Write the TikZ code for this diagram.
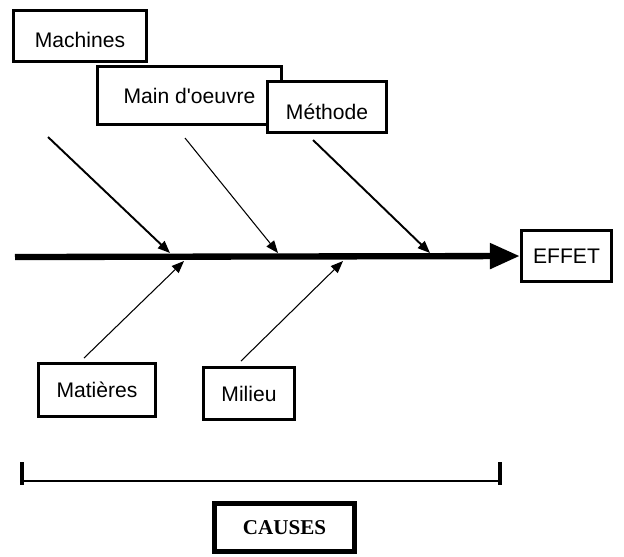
\documentclass[tikz,border=0pt]{standalone}
\usepackage{fontspec}
\setmainfont{Liberation Sans}
\newfontfamily\causefont{Liberation Serif}
\usetikzlibrary{arrows.meta}

\begin{document}
\begin{tikzpicture}[x=0.02cm,y=-0.02cm,every node/.style={draw,line width=2pt,fill=white,inner sep=0pt,font=\fontsize{12}{14}\selectfont},cause/.style={line width=0.6pt,-{Triangle[length=7pt,width=5.5pt]}}]
  \useasboundingbox (0,0) rectangle (624,556);
  \node (1) at (80,36)[minimum width=2.66cm,minimum height=1.02cm,text height=13pt]{Machines\hspace{8pt}};
  \node (2) at (189.5,95.5)[minimum width=3.68cm,minimum height=1.16cm]{Main d\textquotesingle oeuvre};
  \node (3) at (327,107)[minimum width=2.38cm,minimum height=1.02cm,text height=14pt]{Méthode};
  \node (4) at (566.5,256)[minimum width=1.8cm,minimum height=1.02cm]{EFFET};
  \node (5) at (97,390)[minimum width=2.34cm,minimum height=1.06cm]{Matières};
  \node (6) at (249,393.5)[minimum width=1.82cm,minimum height=1.04cm]{Milieu};
  \node (7) at (284.5,527.5)[line width=3pt,minimum width=2.8cm,minimum height=0.96cm,font=\causefont\bfseries\fontsize{12}{14}\selectfont]{CAUSES};
  \coordinate (s) at (15,257);
  \draw[line width=3.6pt,-{Triangle[length=17pt,width=14pt]}] (s) -- (4.west);
  \coordinate (a1) at (48,137);
  \coordinate (t1) at (170,253);
  \coordinate (a2) at (185,138);
  \coordinate (t2) at (278,253);
  \coordinate (a3) at (313,140);
  \coordinate (t3) at (430,253);
  \coordinate (a4) at (84,358);
  \coordinate (t4) at (184,261);
  \coordinate (a5) at (241,361);
  \coordinate (t5) at (343,261);
  \draw[cause,line width=1.1pt](a1)--(t1);
  \draw[cause](a2)--(t2);
  \draw[cause,line width=1.1pt](a3)--(t3);
  \draw[cause](a4)--(t4);
  \draw[cause](a5)--(t5);
  \coordinate (b1) at (22,481);
  \coordinate (b2) at (500,481);
  \draw[line width=1.2pt](b1)--(b2);
  \draw[line width=2pt](22,462)--(b1)--(22,485);
  \draw[line width=2pt](500,462)--(b2)--(500,485);
\end{tikzpicture}
\end{document}
